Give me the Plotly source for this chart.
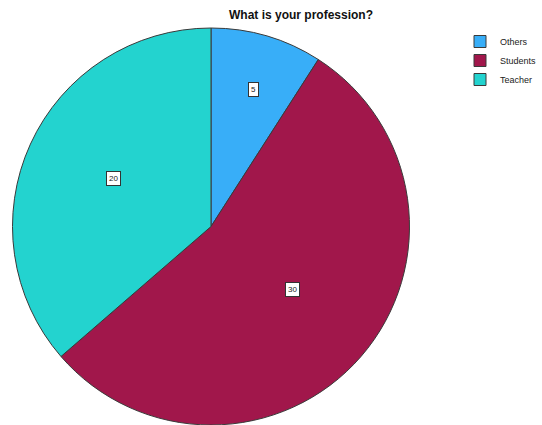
import math
import plotly.graph_objects as go

labels = ["Others", "Students", "Teacher"]
values = [5, 30, 20]
colors = ["#38AEF8", "#A1174B", "#23D3CF"]

W, H = 542, 425
dom_x = [11 / W, 411 / W]
dom_y = [0.0, 397 / H]

fig = go.Figure()
fig.add_trace(go.Pie(
    labels=labels, values=values, sort=False, direction="clockwise", rotation=0,
    marker=dict(colors=colors, line=dict(color="#3a3a3a", width=1)),
    textinfo="none", hoverinfo="label+value",
    domain=dict(x=dom_x, y=dom_y),
))

# value labels as boxed annotations, positioned from the data's slice angles
cx = (dom_x[0] + dom_x[1]) / 2 * W
radius = min((dom_x[1] - dom_x[0]) * W, (dom_y[1] - dom_y[0]) * H) / 2
cy = (dom_y[0] + dom_y[1]) / 2 * H
total = sum(values)
cum = 0
label_frac = [0.76, 0.54, 0.58]
for v, f in zip(values, label_frac):
    mid = (cum + v / 2) / total * 2 * math.pi
    cum += v
    r = radius * f
    px = cx + r * math.sin(mid)
    py = cy + r * math.cos(mid)
    fig.add_annotation(
        x=px / W, y=py / H, xref="paper", yref="paper", text=str(v), showarrow=False,
        font=dict(family="Arial, Liberation Sans", size=8, color="#222222"),
        bgcolor="#ffffff", bordercolor="#333333", borderwidth=1, borderpad=2,
    )

fig.update_layout(
    width=W, height=H,
    margin=dict(l=0, r=0, t=0, b=0),
    paper_bgcolor="#ffffff", plot_bgcolor="#ffffff",
    title=dict(text="<b>What is your profession?</b>", x=301 / W, xanchor="center",
               y=1 - 15 / H, yanchor="middle",
               font=dict(family="Arial, Liberation Sans", size=12, color="#111111")),
    showlegend=True,
    legend=dict(x=1.0, y=1 - 27 / H, xanchor="right", yanchor="top",
                font=dict(family="Arial, Liberation Sans", size=9, color="#222222"),
                bgcolor="rgba(0,0,0,0)", itemwidth=30, tracegroupgap=0),
)

fig.write_html("out.html")
